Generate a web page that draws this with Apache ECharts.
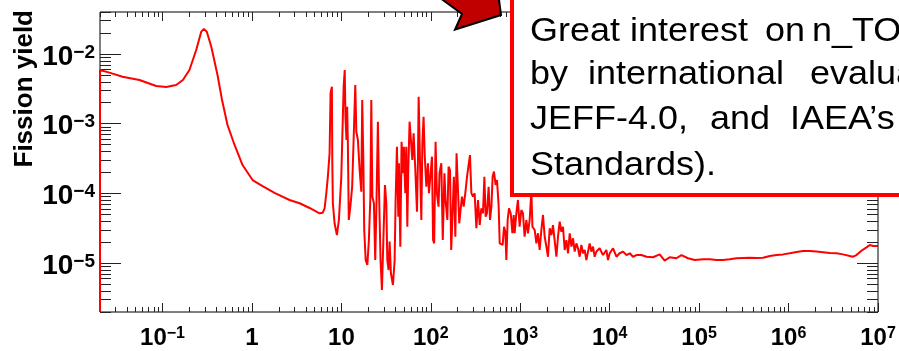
<!DOCTYPE html>
<html><head><meta charset="utf-8">
<script src="https://cdn.jsdelivr.net/npm/echarts@6/dist/echarts.min.js"></script>
<style>html,body{margin:0;padding:0;background:#fff}#c{width:899px;height:351px}</style>
</head><body><div id="c"></div>
<script>
// Neutron energy (eV) and fission yield
const energy = [
  0.02, 0.02, 0.0255, 0.0357, 0.0553, 0.085, 0.110, 0.142, 0.169, 0.200,
  0.238, 0.271, 0.290, 0.313, 0.351, 0.412, 0.463, 0.533, 0.639, 0.785,
  1.016, 1.314, 1.79, 2.63, 3.41, 4.41, 5.70, 6.2, 6.49, 6.78,
  7.06, 7.38, 7.57, 7.83, 7.91, 8.03, 8.39, 8.91, 9.38, 9.98,
  10.2, 10.6, 10.9, 11.1, 11.4, 11.6, 11.8, 12.1, 12.6, 13.2,
  13.7, 14.3, 14.7, 15.3, 16.0, 16.7, 17.1, 17.6, 18.0, 18.7,
  19.5, 20.3, 21.1, 21.6, 22.2, 23.1, 23.9, 24.6, 25.6, 26.3,
  27.4, 28.4, 29.6, 30.7, 31.8, 32.6, 33.7, 34.6, 35.8, 37.7,
  39.4, 40.4, 41.8, 43.3, 44.0, 45.6, 47.1, 48.7, 50.0, 51.8,
  53.2, 54.6, 56.0, 57.9, 60.5, 62.1, 64.2, 67.1, 70.0, 71.8,
  73.1, 76.6, 78.3, 80.4, 83.0, 85.3, 89.1, 92.9, 95.3, 98.7,
  103, 106, 109, 113, 117, 122, 125, 131, 136, 142,
  146, 153, 158, 164, 169, 175, 181, 188, 194, 201,
  208, 215, 223, 233, 243, 254, 267, 274, 284, 296,
  309, 323, 337, 352, 367, 383, 397, 410, 424, 443,
  459, 476, 491, 508, 531, 549, 573, 589, 615, 636,
  658, 681, 699, 723, 748, 782, 817, 844, 865, 904,
  942, 984, 1028, 1072, 1119, 1170, 1219, 1274, 1331, 1368,
  1449, 1514, 1578, 1648, 1722, 1795, 1875, 1959, 2042, 2133,
  2228, 2323, 2427, 2535, 2642, 2760, 2884, 3006, 3140, 3281,
  3420, 3573, 3733, 3890, 4063, 4245, 4420, 4616, 4823, 5028,
  5252, 5485, 5974, 6240, 6506, 6795, 7098, 7727, 8414, 9185,
  9573, 1.0e4, 1.09e4, 1.19e4, 1.29e4, 1.41e4, 1.54e4, 1.68e4, 1.82e4, 1.99e4,
  2.26e4, 2.58e4, 3.05e4, 3.62e4, 4.12e4, 4.69e4, 5.57e4, 6.34e4, 7.51e4, 8.93e4,
  1.11e5, 1.32e5, 1.56e5, 1.85e5, 2.20e5, 2.61e5, 3.10e5, 3.68e5, 4.38e5, 5.19e5,
  6.17e5, 7.33e5, 8.68e5, 1.03e6, 1.23e6, 1.45e6, 1.73e6, 2.05e6, 2.43e6, 2.89e6,
  3.44e6, 4.07e6, 4.84e6, 5.27e6, 5.74e6, 6.53e6, 7.43e6, 8.09e6, 8.81e6, 1.0e7
];
const fissionYield = [
  2e-6, 5.9e-3, 5.4e-3, 4.73e-3, 4.24e-3, 3.47e-3, 3.37e-3, 3.60e-3, 4.24e-3, 5.9e-3,
  1.14e-2, 2.09e-2, 2.28e-2, 2.09e-2, 1.27e-2, 5.0e-3, 2.19e-3, 9.6e-4, 4.96e-4, 2.56e-4,
  1.56e-4, 1.28e-4, 1.02e-4, 8.07e-5, 7.24e-5, 6.2e-5, 5.2e-5, 5.3e-5, 6.1e-5, 1.0e-4,
  1.74e-4, 3.77e-4, 2.74e-3, 3.40e-3, 3.02e-4, 7.24e-5, 3.74e-5, 2.54e-5, 4.17e-5, 1.74e-4,
  5.25e-4, 3.40e-3, 5.9e-3, 1.26e-3, 5.85e-4, 1.75e-3, 5.85e-4, 4.17e-5, 6.47e-5, 1.25e-4,
  5.85e-4, 3.60e-3, 7.69e-4, 5.85e-4, 2.17e-4, 1.06e-4, 2.19e-3, 3.02e-4, 3.0e-5, 1.11e-5,
  9.44e-6, 2.15e-5, 9.0e-5, 2.19e-3, 9.0e-5, 7.24e-5, 1.11e-5, 5.79e-5, 1.07e-3, 1.25e-4,
  1.11e-5, 4.13e-6, 3.91e-6, 1.32e-4, 7.24e-5, 1.11e-5, 8.0e-6, 2.04e-5, 7.18e-6, 4.88e-6,
  1.11e-5, 8.07e-5, 4.69e-4, 4.65e-5, 2.71e-4, 1.73e-5, 5.53e-4, 1.95e-4, 4.69e-4, 1.01e-4,
  4.69e-4, 3.34e-5, 2.30e-4, 1.07e-3, 1.13e-3, 3.02e-4, 7.3e-4, 2.17e-4, 5.48e-5, 3.02e-4,
  2.44e-3, 1.40e-4, 4.17e-5, 5.25e-4, 1.26e-3, 3.77e-4, 1.25e-4, 2.71e-4, 1.01e-4, 1.74e-4,
  3.37e-4, 2.15e-5, 1.93e-5, 5.53e-4, 1.01e-4, 6.47e-5, 1.95e-4, 2.71e-4, 2.15e-5, 1.95e-4,
  8.07e-5, 4.17e-5, 2.42e-4, 2.17e-4, 1.55e-5, 5.2e-5, 1.74e-4, 2.4e-5, 3.77e-4, 3.97e-4,
  3.74e-5, 5.79e-5, 9.0e-5, 6.47e-5, 1.01e-4, 1.74e-4, 1.84e-4, 3.56e-4, 1.01e-4, 9.0e-5,
  1.01e-4, 3.17e-5, 8.07e-5, 3.53e-5, 6.14e-5, 5.2e-5, 1.74e-4, 4.65e-5, 5.2e-5, 1.25e-4,
  4.17e-5, 6.47e-5, 1.74e-4, 2.06e-4, 1.32e-4, 1.56e-4, 6.84e-5, 1.93e-5, 2.04e-5, 1.83e-5,
  3.34e-5, 2.83e-5, 1.11e-5, 4.17e-5, 6.14e-5, 5.2e-5, 2.69e-5, 4.92e-5, 2.69e-5, 5.2e-5,
  8.07e-5, 3.34e-5, 5.79e-5, 5.2e-5, 2.4e-5, 4.17e-5, 2.69e-5, 4.17e-5, 1.1e-4, 3.34e-5,
  3.0e-5, 1.93e-5, 2.69e-5, 1.55e-5, 3.0e-5, 4.92e-5, 2.4e-5, 1.73e-5, 1.24e-5, 3.17e-5,
  2.54e-5, 3.53e-5, 3.34e-5, 1.24e-5, 2.4e-5, 3.94e-5, 2.83e-5, 3.34e-5, 1.55e-5, 2.15e-5,
  1.39e-5, 2.69e-5, 1.73e-5, 2.28e-5, 1.47e-5, 1.93e-5, 1.64e-5, 1.24e-5, 1.83e-5, 1.39e-5,
  1.55e-5, 1.11e-5, 1.93e-5, 1.47e-5, 1.73e-5, 1.24e-5, 1.47e-5, 1.64e-5, 1.31e-5, 1.55e-5,
  1.11e-5, 1.39e-5, 1.64e-5, 1.24e-5, 1.39e-5, 1.47e-5, 1.31e-5, 1.39e-5, 1.24e-5, 1.31e-5,
  1.31e-5, 1.24e-5, 1.22e-5, 1.34e-5, 1.09e-5, 1.22e-5, 1.18e-5, 1.31e-5, 1.18e-5, 1.11e-5,
  1.14e-5, 1.14e-5, 1.11e-5, 1.11e-5, 1.14e-5, 1.18e-5, 1.19e-5, 1.20e-5, 1.19e-5, 1.20e-5,
  1.27e-5, 1.31e-5, 1.34e-5, 1.39e-5, 1.45e-5, 1.50e-5, 1.50e-5, 1.47e-5, 1.44e-5, 1.40e-5,
  1.39e-5, 1.34e-5, 1.27e-5, 1.24e-5, 1.31e-5, 1.51e-5, 1.69e-5, 1.83e-5, 1.77e-5, 1.77e-5
];
const xRange = [0.02, 1e7];
const yRange = [2e-6, 0.04];
const xMajorExp = [-1, 0, 1, 2, 3, 4, 5, 6, 7];
const yMajorExp = [-5, -4, -3, -2];
const minorMultipliers = [2, 3, 4, 5, 6, 7, 8, 9];
const yTitle = 'Fission yield';

const L = Math.log10;
function minorTicks(lo, hi) {
  const out = [];
  for (let n = Math.floor(L(lo)) - 1; n <= Math.ceil(L(hi)); n++) {
    for (const k of minorMultipliers) {
      const v = k * Math.pow(10, n);
      if (v >= lo * 0.9999 && v <= hi * 1.0001) out.push(L(v));
    }
  }
  return out;
}
const FONT = '"Liberation Sans", Arial, Helvetica, sans-serif';
function expLabel(v) {
  const n = Math.round(v);
  if (n === 0) return '{b|1}';
  if (n === 1) return '{b|10}';
  return '{b|10}{s|' + (n < 0 ? '\u2212' : '') + Math.abs(n) + '}';
}
const xLo = L(xRange[0]), xHi = L(xRange[1]);
const yLo = L(yRange[0]), yHi = L(yRange[1]);
const tickColor = '#222';

function xAxisDef(position, ticks, len, labels) {
  return {
    type: 'value', gridIndex: 0, position: position, min: xLo, max: xHi,
    axisLine: { show: false, onZero: false },
    splitLine: { show: false },
    axisTick: { show: true, inside: true, length: len, customValues: ticks, lineStyle: { color: tickColor, width: 1 } },
    axisLabel: labels ? {
      show: true, customValues: xMajorExp, margin: 14, formatter: expLabel,
      rich: {
        b: { fontSize: 24, fontWeight: 'bold', fontFamily: FONT, color: '#000' },
        s: { fontSize: 16, fontWeight: 'bold', fontFamily: FONT, color: '#000', verticalAlign: 'top' }
      }
    } : { show: false }
  };
}
function yAxisDef(position, ticks, len, labels) {
  return {
    type: 'value', gridIndex: 0, position: position, min: yLo, max: yHi,
    axisLine: { show: false, onZero: false },
    splitLine: { show: false },
    axisTick: { show: true, inside: true, length: len, customValues: ticks, lineStyle: { color: tickColor, width: 1 } },
    axisLabel: labels ? {
      show: true, customValues: yMajorExp, margin: 5, formatter: expLabel, padding: [6, 0, 0, 0],
      rich: {
        b: { fontSize: 28, fontWeight: 'bold', fontFamily: FONT, color: '#000' },
        s: { fontSize: 19, fontWeight: 'bold', fontFamily: FONT, color: '#000', verticalAlign: 'top' }
      }
    } : { show: false }
  };
}

const xMinor = minorTicks(xRange[0], xRange[1]);
const yMinor = minorTicks(yRange[0], yRange[1]);

const noteFont = '33px ' + FONT;
function word(t, x, y) {
  return { type: 'text', x: x, y: y, scaleX: 1.09, z: 120,
    style: { text: t, font: noteFont, fill: '#000', align: 'left', verticalAlign: 'middle', textAlign: 'left', textVerticalAlign: 'middle' } };
}

const chart = echarts.init(document.getElementById('c'), null, { renderer: 'canvas' });
chart.setOption({
  animation: false,
  backgroundColor: '#fff',
  grid: { left: 100, right: 21, top: 12, bottom: 39, show: true, borderColor: '#000', borderWidth: 1, backgroundColor: 'transparent' },
  xAxis: [
    xAxisDef('bottom', xMajorExp, 9, true),
    xAxisDef('bottom', xMinor, 5, false),
    xAxisDef('top', xMajorExp, 9, false),
    xAxisDef('top', xMinor, 5, false)
  ],
  yAxis: [
    yAxisDef('left', yMajorExp, 21, true),
    yAxisDef('left', yMinor, 11, false),
    yAxisDef('right', yMajorExp, 21, false),
    yAxisDef('right', yMinor, 11, false)
  ],
  series: [{
    type: 'line', xAxisIndex: 0, yAxisIndex: 0,
    data: energy.map((e, i) => [L(e), L(fissionYield[i])]),
    showSymbol: false, symbol: 'none',
    lineStyle: { color: '#FF0000', width: 2 },
    clip: true, z: 5
  }],
  graphic: [
    { type: 'text', x: 25, y: 10, rotation: Math.PI / 2, z: 110,
      style: { text: yTitle, font: 'bold 26px ' + FONT, fill: '#000', align: 'right', verticalAlign: 'middle', textAlign: 'right', textVerticalAlign: 'middle' } },
    { type: 'polygon', z: 110,
      shape: { points: [[432, -8], [462, 14], [455, 29.5], [501, 15], [498, -8]] },
      style: { fill: '#C00000', stroke: '#000', lineWidth: 2 } },
    { type: 'rect', z: 110,
      shape: { x: 512, y: -30, width: 440, height: 225 },
      style: { fill: '#fff', stroke: '#FF0000', lineWidth: 4 } },
    word('Great', 530, 32), word('interest', 630, 32), word('on', 765, 32), word('n_TOF', 812, 32),
    word('by', 530, 75), word('international', 588, 75), word('evaluations', 810, 75),
    word('JEFF-4.0,', 530, 120), word('and', 710, 120), word('IAEA\u2019s', 790, 120),
    word('Standards).', 530, 166)
  ]
});
</script></body></html>
